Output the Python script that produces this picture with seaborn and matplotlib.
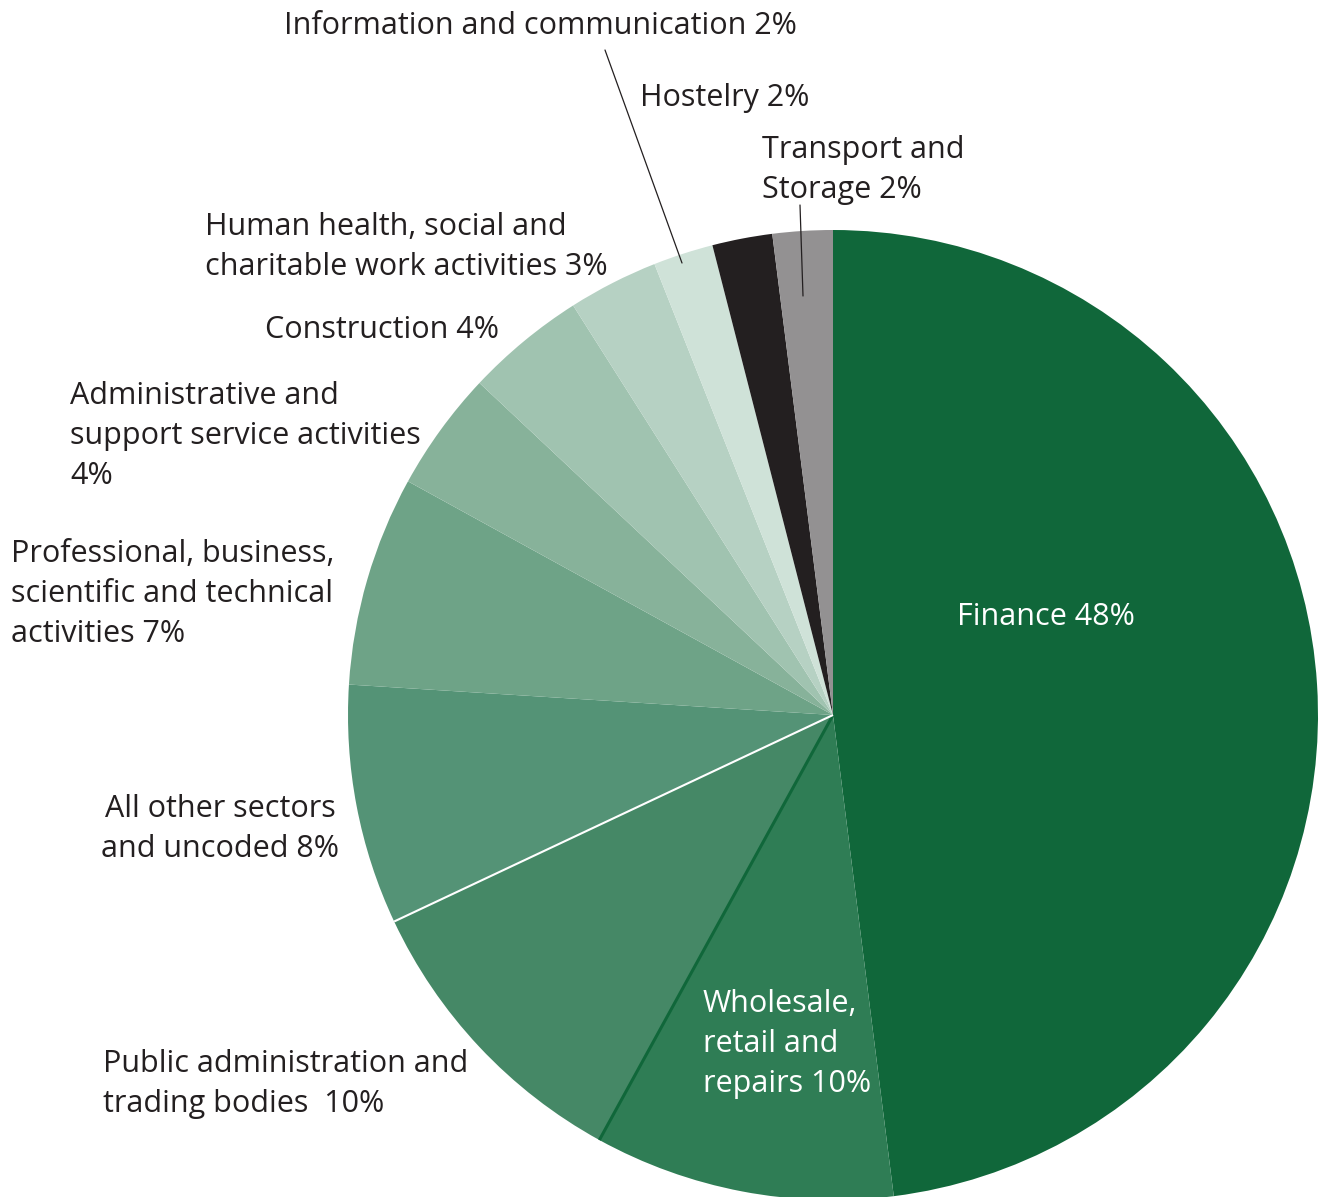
import matplotlib
matplotlib.use("Agg")
import matplotlib.pyplot as plt
import numpy as np
import seaborn as sns

# Share of total by sector (percent), clockwise from 12 o'clock
sectors = [
    "Finance",
    "Wholesale, retail and repairs",
    "Public administration and trading bodies",
    "All other sectors and uncoded",
    "Professional, business, scientific and technical activities",
    "Administrative and support service activities",
    "Construction",
    "Human health, social and charitable work activities",
    "Information and communication",
    "Hostelry",
    "Transport and Storage",
]
shares = [48, 10, 10, 8, 7, 4, 4, 3, 2, 2, 2]
colors = [
    "#10673a", "#2f7d55", "#458866", "#549376", "#6ea387", "#87b29a",
    "#a0c3b0", "#b6d1c3", "#cfe2d8", "#231f20", "#939192",
]

sns.set_theme(style="white")
plt.rcParams["font.family"] = ["Open Sans", "DejaVu Sans"]

W, H = 1325, 1197
CX, CY, R = 833, 715, 485

fig = plt.figure(figsize=(W / 100, H / 100), dpi=100)
ax = fig.add_axes([0, 0, 1, 1])
ax.axis("off")

ax.pie(
    shares, colors=colors, startangle=90, counterclock=False,
    radius=1.0, center=(0, 0), wedgeprops=dict(linewidth=0),
)
ax.set_xlim(-CX / R, (W - CX) / R)
ax.set_ylim(-(H - CY) / R, CY / R)
ax.set_aspect("auto")

# Separator lines on two wedge boundaries
cum = np.cumsum(shares) / sum(shares)
def boundary(i, color, lw):
    ang = np.deg2rad(90 - 360 * cum[i])
    ax.plot([0, np.cos(ang)], [0, np.sin(ang)], color=color, lw=lw,
            solid_capstyle="butt", zorder=3)
boundary(1, "#10673a", 2.2)   # Wholesale / Public administration
boundary(2, "white", 1.5)     # Public administration / All other


def px(x, y):
    return (x - CX) / R, (CY - y) / R


FS = 22
LS = 1.45
dark = "#231f20"

def label(text, x, y, ha="left", color=dark):
    ax.text(*px(x, y + 3), text, ha=ha, va="center", fontsize=FS,
            color=color, linespacing=LS, zorder=4)

label("Information and communication 2%", 284, 23)
label("Hostelry 2%", 640, 95)
label("Transport and\nStorage 2%", 762, 167)
label("Human health, social and\ncharitable work activities 3%", 205, 244)
label("Construction 4%", 265, 327)
label("Administrative and\nsupport service activities\n4%", 70, 433)
label("Professional, business,\nscientific and technical\nactivities 7%", 11, 591)
label("All other sectors\nand uncoded 8%", 220, 826, ha="center")
label("Public administration and\ntrading bodies  10%", 103, 1081)
label("Wholesale,\nretail and\nrepairs 10%", 703, 1041, color="white")
label("Finance 48%", 957, 614, color="white")

# Leader lines for the two narrow slices at the top
ax.plot(*zip(px(605, 50), px(682, 263)), color=dark, lw=0.9, zorder=4)
ax.plot(*zip(px(800, 205), px(803, 296)), color=dark, lw=0.9, zorder=4)

fig.savefig("out.png", dpi=100, facecolor="white")
